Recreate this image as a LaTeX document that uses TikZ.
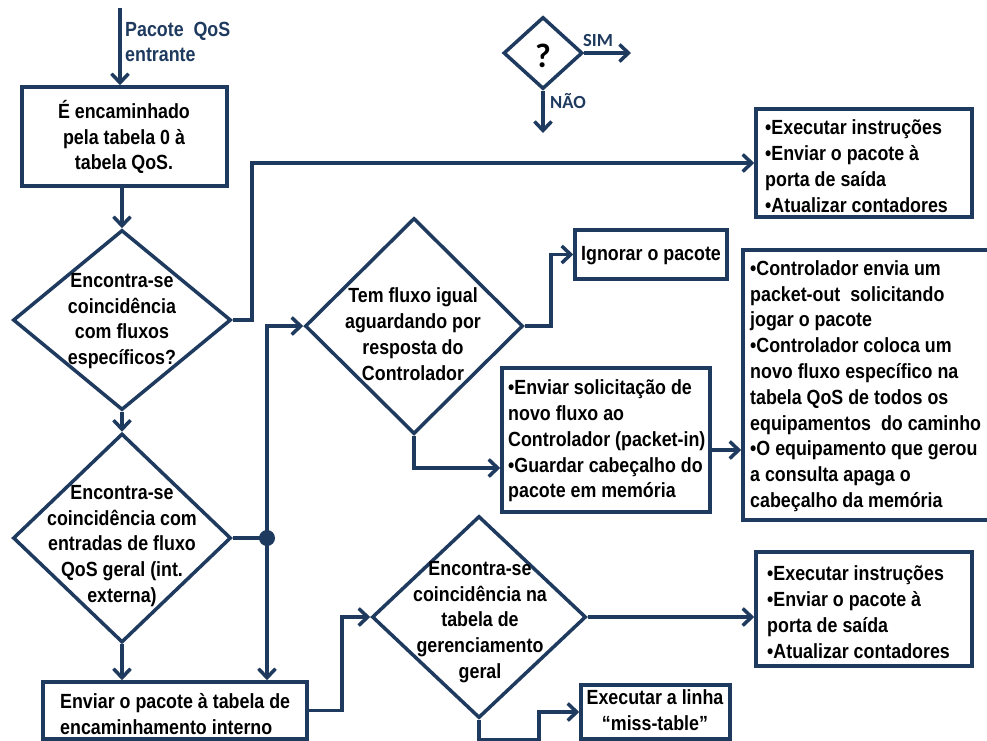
\documentclass[tikz,border=0pt]{standalone}
\usepackage{fontspec}
\setmainfont{Liberation Sans}[FakeStretch=0.87]
\newfontfamily\legendfont{Carlito}
\usetikzlibrary{shapes.geometric,arrows.meta}
\definecolor{navy}{HTML}{1F3A5F}

\begin{document}
\begin{tikzpicture}[x=1pt,y=-1pt,
  flow/.style={draw=navy, line width=3.5pt},
  arr/.style={flow, -{Straight Barb[length=9pt,width=17pt]}},
  box/.style={draw=navy, line width=3.5pt, rectangle, inner sep=0pt},
  decision/.style={draw=navy, line width=3.5pt, diamond, inner sep=0pt},
  txt/.style={font=\fontsize{20.5}{25.8}\selectfont\bfseries, align=center, inner sep=0pt, text=black},
  ltxt/.style={txt, align=left, anchor=west},
  legtxt/.style={font=\legendfont\fontsize{18.5}{22}\selectfont\bfseries, inner sep=0pt, text=navy}]

\path[use as bounding box] (0,0) rectangle (987,740);
\clip (0,0) rectangle (987,740);
\fill[white] (0,0) rectangle (987,740);

% legend
\node[decision, minimum width=79pt, minimum height=72pt] (ld) at (543,53) {};
\node[font=\legendfont\fontsize{34}{36}\selectfont\bfseries, inner sep=0pt] (lq) at (543,56) {?};
\coordinate (lsim) at (631,53);
\coordinate (lnao) at (543,133);
\node[legtxt] (lsimt) at (598,40) {SIM};
\node[legtxt] (lnaot) at (568,101) {NÃO};
\draw[arr] (ld.east) -- (lsim);
\draw[arr] (ld.south) -- (lnao);

% incoming packet
\coordinate (in) at (120,8);
\node[txt, text=navy, align=left, anchor=west] (inlbl) at (125,42) {Pacote\ \ QoS\\entrante};

% boxes
\node[box, minimum width=205pt, minimum height=99pt] (b1) at (124.5,136.5) {};
\node[txt] (b1t) at (124,137) {É encaminhado\\pela tabela 0 à\\tabela QoS.};

\node[box, minimum width=216pt, minimum height=108pt] (b2) at (864,163) {};
\node[ltxt] (b2t) at (765,166) {•Executar instruções\\•Enviar o pacote à\\porta de saída\\•Atualizar contadores};

\node[box, minimum width=152pt, minimum height=49pt] (b3) at (651,254.5) {};
\node[txt] (b3t) at (651,256) {Ignorar o pacote};

\node[box, minimum width=208pt, minimum height=144pt] (b4) at (606,440) {};
\node[ltxt] (b4t) at (508,441) {•Enviar solicitação de\\novo fluxo ao\\Controlador (packet-in)\\•Guardar cabeçalho do\\pacote em memória};

\node[box, minimum width=257pt, minimum height=270pt] (b5) at (871.5,385) {};
\node[ltxt] (b5t) at (750,386) {•Controlador envia um\\packet-out\ \ solicitando\\jogar o pacote\\•Controlador coloca um\\novo fluxo específico na\\tabela QoS de todos os\\equipamentos\ \ do caminho\\•O equipamento que gerou\\a consulta apaga o\\cabeçalho da memória};

\node[box, minimum width=216pt, minimum height=114pt] (b6) at (864,609) {};
\node[ltxt] (b6t) at (767,612) {•Executar instruções\\•Enviar o pacote à\\porta de saída\\•Atualizar contadores};

\node[box, minimum width=149pt, minimum height=54pt] (b7) at (655.5,712) {};
\node[txt] (b7t) at (655,710) {Executar a linha\\“miss-table”};

\node[box, minimum width=264pt, minimum height=57pt] (b8) at (175,710.5) {};
\node[ltxt] (b8t) at (60,714) {Enviar o pacote à tabela de\\encaminhamento interno};

% decisions
\node[decision, minimum width=218pt, minimum height=180pt] (d1) at (122,320) {};
\node[txt] (d1t) at (122,321) {Encontra-se\\coincidência\\com fluxos\\específicos?};

\node[decision, minimum width=218pt, minimum height=209pt] (d2) at (122,538) {};
\node[txt] (d2t) at (122,546) {Encontra-se\\coincidência com\\entradas de fluxo\\QoS geral (int.\\externa)};

\node[decision, minimum width=218pt, minimum height=216pt] (d3) at (414,326) {};
\node[txt] (d3t) at (413,334) {Tem fluxo igual\\aguardando por\\resposta do\\Controlador};

\node[decision, minimum width=214pt, minimum height=202pt] (d4) at (479,617) {};
\node[txt] (d4t) at (480,622) {Encontra-se\\coincidência na\\tabela de\\gerenciamento\\geral};

% junction
\coordinate (j) at (267,538);

% connectors
\draw[arr] (in) -- (in |- b1.north);
\draw[arr] (d1.north |- b1.south) -- (d1.north);
\draw[arr] (d1.south) -- (d2.north);
\draw[arr] (d1.east) -- ++(19,0) |- (b2.west);
\draw[arr] (d2.south) -- (d2.south |- b8.north);
\draw[flow] (d2.east) -- (j);
\draw[arr] (j) |- (d3.west);
\draw[arr] (j) -- (j |- b8.north);
\draw[arr] (d3.east) -- ++(26,0) |- (b3.west);
\draw[arr] (d3.south) |- ([yshift=-28pt]b4.west);
\draw[arr] ([yshift=-10pt]b4.east) -- ([yshift=-10pt]b4.east -| b5.west);
\draw[arr] (b8.east) -- ++(33,0) |- (d4.west);
\draw[arr] (d4.east) -- (d4.east -| b6.west);
\draw[arr] (d4.south) |- ++(60,20) |- (b7.west);
\fill[navy] (j) circle[radius=8pt];

\end{tikzpicture}
\end{document}
